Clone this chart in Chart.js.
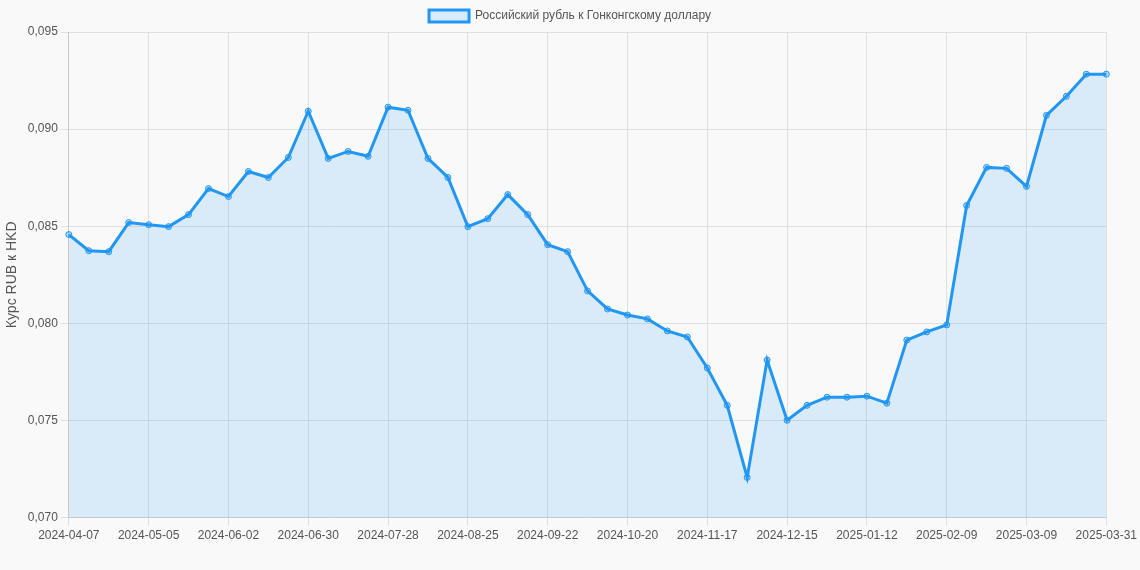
<!DOCTYPE html>
<html lang="ru">
<head>
<meta charset="UTF-8" />
<title>RUB/HKD</title>
<script src="https://cdn.jsdelivr.net/npm/chart.js"></script>
<style>
    html, body { margin: 0; background: #f9f9f9; }
    #wrap { width: 1140px; height: 570px; }
</style>
</head>
<body>
<div id="wrap"><canvas id="rateChart"></canvas></div>
<script>
// Недельные даты
const labels = [];
const start = new Date(Date.UTC(2024, 3, 7));
for (let i = 0; i < 52; i++) {
    const d = new Date(start.getTime() + i * 7 * 86400000);
    labels.push(d.toISOString().slice(0, 10));
}
labels.push('2025-03-31');

const rates = [
    0.08457, 0.08374, 0.08369, 0.08519, 0.08508, 0.08498, 0.0856, 0.08694, 0.08653, 0.08782,
    0.08751, 0.08854, 0.09092, 0.08849, 0.08885, 0.0886, 0.09113, 0.09097, 0.08849, 0.08751,
    0.08498, 0.08539, 0.08663, 0.0856, 0.08405, 0.08369, 0.08167, 0.08074, 0.08043, 0.08023,
    0.07961, 0.0793, 0.0777, 0.07578, 0.07207, 0.07811, 0.07501, 0.07578, 0.0762, 0.0762,
    0.07625, 0.07589, 0.07914, 0.07956, 0.07992, 0.08607, 0.08803, 0.08798, 0.08705, 0.09071,
    0.09169, 0.09283, 0.09283
];

const shown = i => (i % 4 === 0 && i < 52) || i === labels.length - 1;
const font = { family: "'Liberation Sans', Arial, sans-serif", size: 12 };

new Chart(document.getElementById('rateChart'), {
    type: 'line',
    data: {
        labels: labels,
        datasets: [{
            label: 'Российский рубль к Гонконгскому доллару',
            data: rates,
            fill: true,
            backgroundColor: 'rgba(33, 150, 243, 0.15)',
            borderColor: '#2196f3',
            borderWidth: 3,
            pointRadius: 3,
            pointBackgroundColor: 'rgba(33, 150, 243, 0.3)',
            pointBorderColor: '#2196f3',
            pointBorderWidth: 1,
            tension: 0
        }]
    },
    options: {
        responsive: true,
        maintainAspectRatio: false,
        animation: false,
        layout: { padding: { bottom: 24 } },
        plugins: {
            legend: { labels: { color: '#555', font: font } }
        },
        scales: {
            x: {
                grid: { color: ctx => shown(ctx.index) ? '#e0e0e0' : 'rgba(0,0,0,0)' },
                ticks: {
                    autoSkip: false, maxRotation: 0, color: '#555', font: font,
                    callback: (v, i) => shown(i) ? labels[i] : ''
                }
            },
            y: {
                min: 0.07, max: 0.095,
                grid: { color: '#e0e0e0' },
                title: { display: true, text: 'Курс RUB к HKD', color: '#555', font: { family: font.family, size: 14 } },
                ticks: {
                    stepSize: 0.005, color: '#555', font: font,
                    callback: v => v.toFixed(3).replace('.', ',')
                }
            }
        }
    }
});
</script>
</body>
</html>
